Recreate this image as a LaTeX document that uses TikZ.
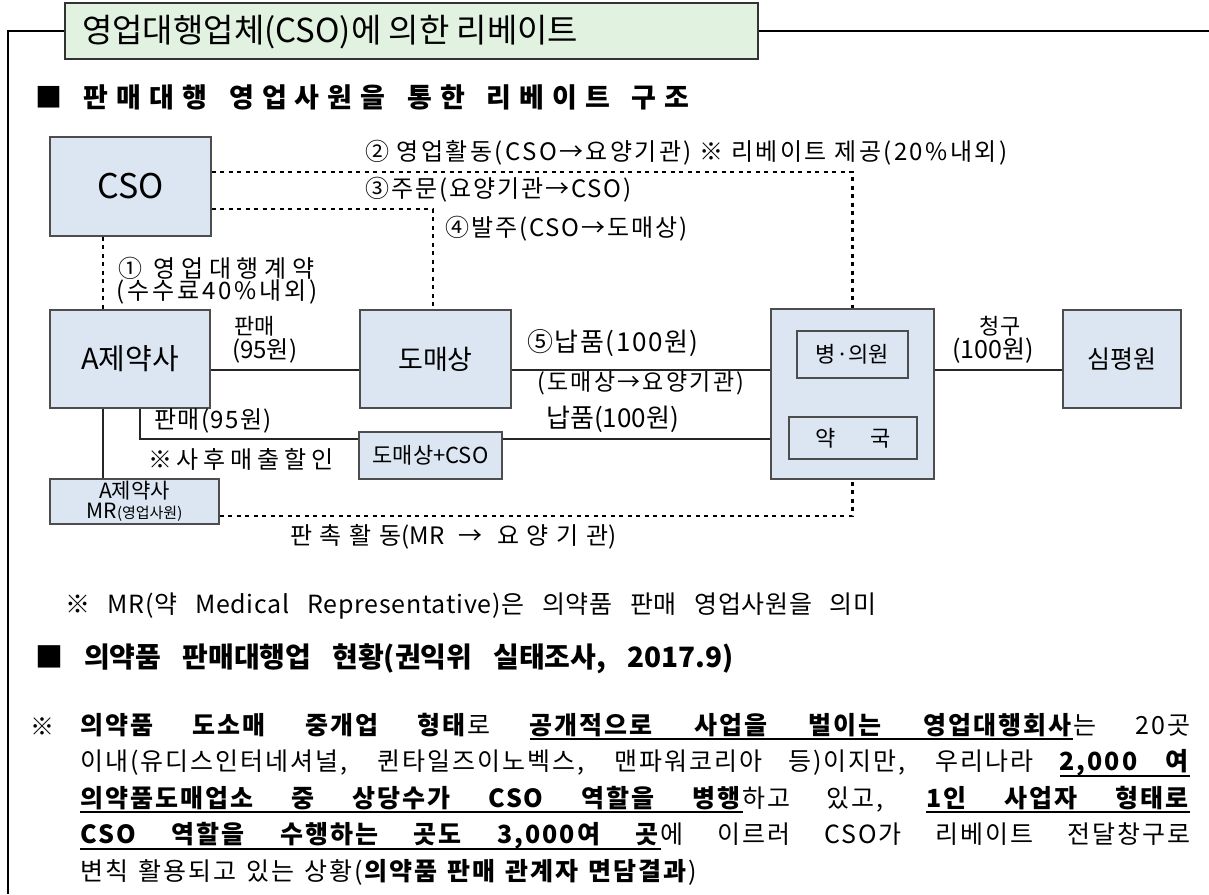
\documentclass[tikz,border=0pt]{standalone}
\usepackage{fontspec}
\setmainfont{Noto Sans CJK KR}
\usetikzlibrary{calc}
\definecolor{boxfill}{HTML}{DCE6F2}
\definecolor{boxborder}{HTML}{4D4D4D}
\definecolor{titlefill}{HTML}{E2F2E0}
\newcommand{\fs}[1]{\fontsize{#1}{#1}\selectfont}
\newcommand{\ulb}[1]{\setbox0\hbox{\textbf{#1}}\rlap{\vrule width\wd0 height -4pt depth 6pt}\box0}
\newcommand{\ulsp}{\leaders\hrule height -4pt depth 6pt\hskip 0.4em plus 1.5em minus 0.1em\relax}
\newcommand{\lsp}[1]{\addfontfeatures{LetterSpace=#1}}
\tikzset{
  box/.style={draw=boxborder, fill=boxfill, line width=1.2pt, inner sep=0pt},
  dotline/.style={line width=2.6pt, dash pattern=on 4pt off 4.5pt, black},
  solidline/.style={line width=1.1pt, draw=black!85},
  lbl/.style={anchor=west, inner sep=0pt, font=\fs{24}\lsp{8}},
}
\begin{document}
\begin{tikzpicture}[x=1pt,y=-1pt]
\useasboundingbox (0,0) rectangle (1209,894);
% coordinates
\coordinate (x103) at (103,0);
\coordinate (x140) at (140,0);
\coordinate (x433) at (433,0);
\coordinate (y172) at (0,172);
\coordinate (y209) at (0,209);
\coordinate (y370) at (0,370);
\coordinate (y439) at (0,439);
\coordinate (y516) at (0,516);
\coordinate (fl) at (8,894);
\coordinate (fr) at (1209,31);
% title
\node[draw=black!80, fill=titlefill, line width=1.8pt, minimum width=693pt, minimum height=56pt, inner sep=0pt] (title) at (411.5,31) {};
\node[anchor=west, inner sep=0pt, font=\fs{33}] (titletxt) at (82,32) {영업대행업체(CSO)에 의한 리베이트};
\draw[line width=1.3pt] (title.west) -- (fl |- title.west) -- (fl);
\draw[line width=1.3pt] (title.east) -- (fr);
% subtitle
\node[anchor=west, inner sep=0pt, font=\fs{27}\bfseries\lsp{30}] (sub1) at (35,97) {\spaceskip=0.8em ■ 판매대행 영업사원을 통한 리베이트 구조};
% boxes
\node[box, minimum width=161pt, minimum height=99pt, font=\fs{34}] (cso) at (130.5,186.5) {CSO};
\node[box, minimum width=160pt, minimum height=98pt, font=\fs{29}] (a) at (130,359) {A제약사};
\node[box, minimum width=151pt, minimum height=98pt, font=\fs{27}] (dm) at (435.5,359) {도매상};
\node[box, minimum width=163pt, minimum height=170pt] (big) at (852.5,394) {};
\node[box, minimum width=111pt, minimum height=47pt, font=\fs{22}] (hosp) at (852.5,354.5) {병·의원};
\node[box, minimum width=128pt, minimum height=42pt, font=\fs{22}] (pharm) at (853,438) {약\hspace{1.6em}국};
\node[box, minimum width=118pt, minimum height=98pt, font=\fs{25}] (hira) at (1122,359) {심평원};
\node[box, minimum width=143pt, minimum height=47pt, font=\fs{22}] (dcso) at (430.5,455.5) {도매상+CSO};
\node[box, minimum width=169pt, minimum height=45pt, font=\fs{21}, align=center] (mr) at (134.5,501.5) {A제약사\\[-1pt]MR{\fs{15}(영업사원)}};
% dotted connectors
\draw[dotline] (cso.south -| x103) -- (a.north -| x103);
\draw[dotline] (cso.east |- y172) -| (big.north);
\draw[dotline] (cso.east |- y209) -| (x433 |- dm.north);
\draw[dotline] (mr.east |- y516) -| (big.south);
% solid connectors
\draw[solidline] (a.east |- y370) -- (dm.west |- y370);
\draw[solidline] (dm.east |- y370) -- (big.west |- y370);
\draw[solidline] (big.east |- y370) -- (hira.west |- y370);
\draw[solidline] (a.south -| x103) -- (mr.north -| x103);
\draw[solidline] (a.south -| x140) |- (dcso.west |- y439);
\draw[solidline] (dcso.east |- y439) -- (big.west |- y439);
% labels
\node[lbl, font=\fs{24}\lsp{10}] (l2) at (365,153) {② 영업활동(CSO→요양기관) ※ 리베이트 제공(20\%내외)};
\node[lbl] (l3) at (365,190) {③주문(요양기관→CSO)};
\node[lbl] (l4) at (445,229) {④발주(CSO→도매상)};
\node[lbl, font=\fs{24}\lsp{24}] (l1a) at (118,268) {① 영업대행계약};
\node[lbl, font=\fs{24}\lsp{12}] (l1b) at (116,292) {(수수료40\%내외)};
\node[lbl, font=\fs{22}] (lsale1a) at (234,326) {판매};
\node[lbl, font=\fs{24}] (lsale1b) at (232,351) {(95원)};
\node[lbl, font=\fs{26}\lsp{6}] (l5a) at (527,343) {⑤납품(100원)};
\node[lbl, font=\fs{23}\lsp{10}] (l5b) at (537,383) {(도매상→요양기관)};
\node[lbl, font=\fs{24}\lsp{6}] (lsale2) at (154,421) {판매(95원)};
\node[lbl, font=\fs{26}] (ldel2) at (546,419) {납품(100원)};
\node[lbl, font=\fs{24}\lsp{20}] (lrebate) at (148,459) {※사후매출할인};
\node[lbl, font=\fs{24}] (lpromo) at (290,537) {{\lsp{32}판촉활동}(MR\hspace{0.6em}→\hspace{0.6em}{\lsp{32}요양기관})};
\node[inner sep=0pt, font=\fs{22}] (lclaim1) at (1000,326) {청구};
\node[inner sep=0pt, font=\fs{25}] (lclaim2) at (993,351) {(100원)};
% notes
\node[anchor=west, inner sep=0pt, font=\fs{25}\lsp{3}] (note) at (65,606) {\spaceskip=0.7em ※ MR(약 Medical Representative)은 의약품 판매 영업사원을 의미};
\node[anchor=west, inner sep=0pt, font=\fs{28}\bfseries] (sub2) at (35,659) {\spaceskip=0.75em ■ 의약품 판매대행업 현황(권익위 실태조사, 2017.9)};
\node[anchor=west, inner sep=0pt, font=\fs{24}] (star) at (30,727) {※};
\node[anchor=north west, inner sep=0pt, text width=1110pt, font=\fontsize{25}{36.5}\selectfont\lsp{8}, align=justify] (para) at (80,713) {%
\spaceskip=0.4em plus 1.5em minus 0.1em
\textbf{의약품 도소매 중개업 형태}로 \ulb{공개적으로}\ulsp\ulb{사업을}\ulsp\ulb{벌이는}\ulsp\ulb{영업대행회사}는 20곳\linebreak
이내(유디스인터네셔널, 퀸타일즈이노벡스, 맨파워코리아 등)이지만, 우리나라 \ulb{2,000}\ulsp\ulb{여}\linebreak
\ulb{의약품도매업소}\ulsp\ulb{중}\ulsp\ulb{상당수가}\ulsp\ulb{CSO}\ulsp\ulb{역할을}\ulsp\ulb{병행}하고 있고, \ulb{1인}\ulsp\ulb{사업자}\ulsp\ulb{형태로}\linebreak
\ulb{CSO}\ulsp\ulb{역할을}\ulsp\ulb{수행하는}\ulsp\ulb{곳도}\ulsp\ulb{3,000여}\ulsp\ulb{곳}에 이르러 CSO가 리베이트 전달창구로\linebreak
변칙 활용되고 있는 상황(\textbf{의약품 판매 관계자 면담결과})};
\end{tikzpicture}
\end{document}
